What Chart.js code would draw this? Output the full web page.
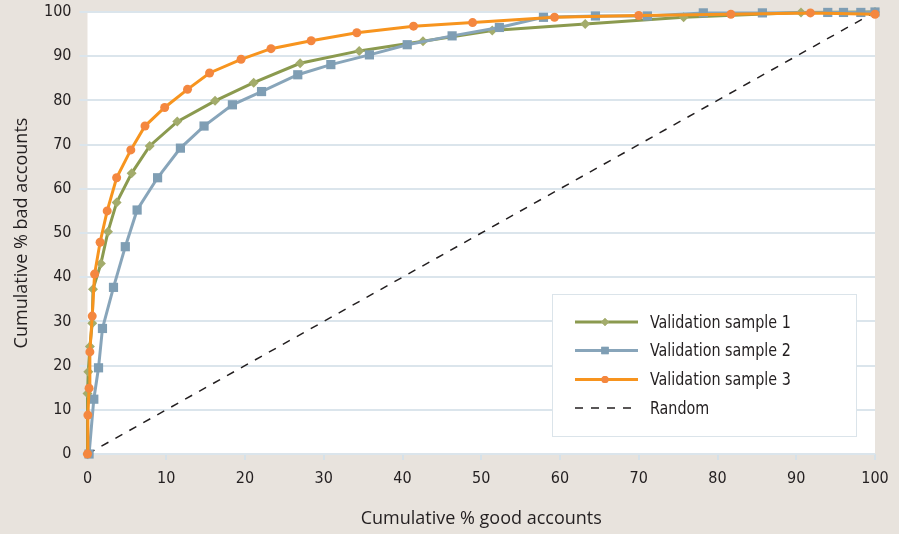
<!DOCTYPE html>
<html>
<head>
<meta charset="utf-8">
<script src="https://cdn.jsdelivr.net/npm/chart.js@4/dist/chart.umd.min.js"></script>
<style>
  html, body { margin: 0; padding: 0; background: #e8e3dd; }
  #wrap { width: 899px; height: 534px; }
</style>
</head>
<body>
<div id="wrap"><canvas id="roc"></canvas></div>
<script>
// ===== Data =====
const seriesNames = ["Validation sample 1", "Validation sample 2", "Validation sample 3", "Random"];

const goodPct1 = [0, 0, 0.1, 0.3, 0.6, 0.7, 1.7, 2.6, 3.7, 5.6, 7.9, 11.4, 16.2, 21.1, 27.0, 34.5, 42.6, 51.4, 63.2, 75.7, 90.6, 100];
const badPct1  = [0, 13.7, 18.6, 24.3, 29.6, 37.3, 43.1, 50.3, 56.9, 63.5, 69.7, 75.2, 79.9, 84.0, 88.4, 91.2, 93.4, 95.8, 97.3, 98.8, 99.9, 100];

const goodPct2 = [0.2, 0.8, 1.4, 1.9, 3.3, 4.8, 6.3, 8.9, 11.8, 14.8, 18.4, 22.1, 26.7, 30.9, 35.8, 40.6, 46.3, 52.3, 57.9, 64.5, 71.1, 78.2, 85.7, 94.0, 96.0, 98.2, 100];
const badPct2  = [0, 12.4, 19.5, 28.4, 37.7, 46.9, 55.2, 62.5, 69.2, 74.2, 79.0, 82.0, 85.8, 88.1, 90.3, 92.6, 94.6, 96.5, 98.8, 99.1, 99.1, 99.8, 99.8, 99.9, 99.9, 99.9, 100];

const goodPct3 = [0, 0.05, 0.2, 0.3, 0.6, 0.9, 1.6, 2.5, 3.7, 5.5, 7.3, 9.8, 12.7, 15.5, 19.5, 23.3, 28.4, 34.2, 41.4, 48.9, 59.3, 70.0, 81.7, 91.8, 100];
const badPct3  = [0, 8.8, 14.9, 23.1, 31.2, 40.7, 47.9, 55.0, 62.5, 68.8, 74.2, 78.4, 82.5, 86.2, 89.3, 91.7, 93.5, 95.3, 96.8, 97.6, 98.8, 99.2, 99.5, 99.8, 99.5];

const goodRandom = [0, 100];
const badRandom  = [0, 100];

const axisMin = 0, axisMax = 100, axisStep = 10;

function toPoints(xs, ys) {
  return xs.map((x, i) => ({ x: x, y: ys[i] }));
}

// ===== Plugins =====
const plotBackground = {
  id: "plotBackground",
  beforeDraw(chart) {
    const { ctx, chartArea: a } = chart;
    ctx.save();
    ctx.fillStyle = "#ffffff";
    ctx.fillRect(a.left, a.top, a.right - a.left, a.bottom - a.top);
    ctx.restore();
  }
};

// legend sits inside the plot, bottom right, in a white box
const boxLegend = {
  id: "boxLegend",
  afterDraw(chart) {
    const ctx = chart.ctx;
    const box = { x: 552, y: 294, w: 304, h: 142 };
    ctx.save();
    ctx.fillStyle = "#ffffff";
    ctx.fillRect(box.x, box.y, box.w, box.h);
    ctx.strokeStyle = "#dbe4ea";
    ctx.lineWidth = 1;
    ctx.strokeRect(box.x + 0.5, box.y + 0.5, box.w, box.h);

    const rowY = [322, 350.5, 379.5, 408];
    chart.data.datasets.forEach((ds, i) => {
      const y = rowY[i];
      ctx.beginPath();
      ctx.strokeStyle = ds.borderColor;
      ctx.lineWidth = ds.borderWidth;
      ctx.setLineDash(ds.borderDash || []);
      ctx.moveTo(575, y);
      ctx.lineTo(638, y);
      ctx.stroke();
      ctx.setLineDash([]);
      if (ds.pointRadius > 0) {
        ctx.fillStyle = ds.pointBackgroundColor;
        Chart.helpers.drawPoint(ctx, {
          pointStyle: ds.pointStyle,
          radius: ds.pointRadius * 0.8,
          rotation: 0,
          borderWidth: 0
        }, 605, y);
        ctx.fill();
      }
      // condensed look, like the original face
      ctx.save();
      ctx.translate(650, y + 1);
      ctx.scale(0.86, 1);
      ctx.fillStyle = "#231f20";
      ctx.font = "18.5px 'DejaVu Sans Condensed', sans-serif";
      ctx.textBaseline = "middle";
      ctx.textAlign = "left";
      ctx.fillText(ds.label, 0, 0);
      ctx.restore();
    });
    ctx.restore();
  }
};

// ===== Chart =====
const tickFont = { family: "'DejaVu Sans Condensed', sans-serif", size: 16, lineHeight: 1.2 };
const titleFont = { family: "'Open Sans', sans-serif", size: 18, lineHeight: 1.2 };

new Chart(document.getElementById("roc"), {
  type: "scatter",
  data: {
    datasets: [
      {
        label: seriesNames[0],
        data: toPoints(goodPct1, badPct1),
        showLine: true,
        borderColor: "#8b9a4f",
        borderWidth: 3,
        pointStyle: "rectRot",
        pointRadius: 5,
        pointBackgroundColor: "#a3ac6c",
        pointBorderWidth: 0,
        order: 2,
        clip: false
      },
      {
        label: seriesNames[1],
        data: toPoints(goodPct2, badPct2),
        showLine: true,
        borderColor: "#88a5ba",
        borderWidth: 3,
        pointStyle: "rect",
        pointRadius: 6.5,
        pointBackgroundColor: "#7f9eb4",
        pointBorderWidth: 0,
        order: 1,
        clip: false
      },
      {
        label: seriesNames[2],
        data: toPoints(goodPct3, badPct3),
        showLine: true,
        borderColor: "#f7941e",
        borderWidth: 3,
        pointStyle: "circle",
        pointRadius: 4.5,
        pointBackgroundColor: "#f4873f",
        pointBorderWidth: 0,
        order: 0,
        clip: false
      },
      {
        label: seriesNames[3],
        data: toPoints(goodRandom, badRandom),
        showLine: true,
        borderColor: "#231f20",
        borderWidth: 1.5,
        borderDash: [8, 8],
        pointRadius: 0,
        order: 3
      }
    ]
  },
  options: {
    responsive: true,
    maintainAspectRatio: false,
    animation: false,
    layout: { padding: { left: 0, right: 24, top: 12, bottom: 0 } },
    plugins: {
      legend: { display: false },
      tooltip: { enabled: false }
    },
    scales: {
      x: {
        type: "linear",
        min: axisMin,
        max: axisMax,
        afterFit(scale) {
          scale.height = 80;
          scale.paddingLeft = 0;
          scale.paddingRight = 0;
        },
        ticks: { stepSize: axisStep, color: "#231f20", font: tickFont, padding: 9 },
        grid: { drawOnChartArea: false, drawTicks: true, tickLength: 6, color: "#d5e1e9", lineWidth: 2 },
        border: { display: false },
        title: {
          display: true,
          text: "Cumulative % good accounts",
          color: "#231f20",
          font: titleFont,
          padding: { top: 0, bottom: 4 }
        }
      },
      y: {
        min: axisMin,
        max: axisMax,
        afterFit(scale) {
          scale.width = 87.5;
          scale.paddingTop = 0;
          scale.paddingBottom = 0;
        },
        ticks: { stepSize: axisStep, color: "#231f20", font: tickFont, padding: 8 },
        grid: { color: "#dbe5ec", lineWidth: 2, tickLength: 8 },
        border: { display: false },
        title: {
          display: true,
          text: "Cumulative % bad accounts",
          color: "#231f20",
          font: titleFont,
          padding: { top: 11, bottom: 0 }
        }
      }
    }
  },
  plugins: [plotBackground, boxLegend]
});
</script>
</body>
</html>
